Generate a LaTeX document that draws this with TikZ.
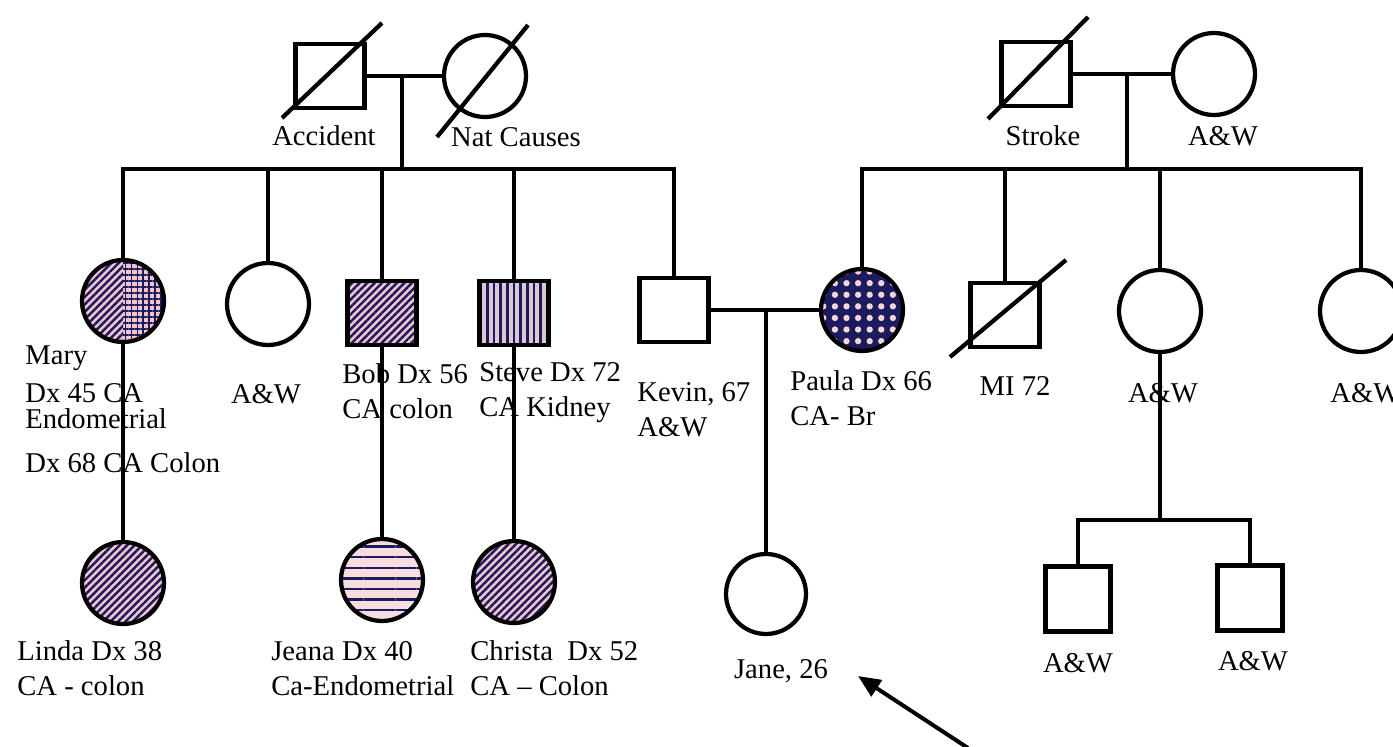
\documentclass[tikz,border=0pt]{standalone}
\usepackage{fontspec}
\setmainfont{Liberation Serif}
\usepackage{tikz}
\usetikzlibrary{arrows.meta,positioning,calc,patterns.meta}
\definecolor{ink}{HTML}{1B1B5E}
\definecolor{blush}{HTML}{F2C4CC}
\definecolor{dotpink}{HTML}{F7D3DA}
\newcommand{\pedfont}{\fontsize{16.3}{19.8}\selectfont}

\begin{document}
\begin{tikzpicture}[
    x=0.02cm, y=-0.02cm,
    rel/.style={line width=0.085cm},
    male/.style={rel,draw,rectangle,minimum width=1.38cm,minimum height=1.28cm,inner sep=0pt},
    kid/.style={male,minimum width=1.3cm,minimum height=1.3cm},
    female/.style={rel,draw,circle,minimum size=1.64cm,inner sep=0pt},
    diag/.style={preaction={fill=blush},pattern={Lines[angle=45,distance=3pt,line width=1.4pt]},pattern color=ink},
    vbars/.style={preaction={fill=blush!80!ink!60},pattern={Lines[angle=90,distance=3.8pt,line width=1.5pt]},pattern color=ink},
    hbars/.style={preaction={fill=blush!60},pattern={Lines[angle=0,distance=6pt,line width=1.4pt]},pattern color=ink},
    dots/.style={preaction={fill=ink},pattern={Dots[distance=6.6pt,radius=1.8pt]},pattern color=dotpink},
    split/.style={path picture={
        \fill[blush] (path picture bounding box.south west) rectangle (path picture bounding box.north east);
        \fill[pattern={Lines[angle=45,distance=3pt,line width=1.4pt]},pattern color=ink]
          (path picture bounding box.south west) rectangle (path picture bounding box.north);
        \fill[pattern={Hatch[angle=0,distance=3.4pt,line width=1pt]},pattern color=ink]
          (path picture bounding box.south) rectangle (path picture bounding box.north east);}},
    lbl/.style={font=\pedfont,align=left,anchor=base west,inner sep=0pt},
    clbl/.style={lbl,anchor=base},
    ptr/.style={line width=0.08cm,-{Triangle[length=0.45cm,width=0.38cm]}}
  ]
  \useasboundingbox (0,0) rectangle (1393,747);

  % paternal side
  \node[male] (acc) at (330,76) {};
  \node[female] (nat) at (485,76) {};
  \draw[rel] ($(acc.center)+(-48,42)$) -- ($(acc.center)+(52,-53)$);
  \draw[rel] ($(nat.center)+(-48,61)$) -- ($(nat.center)+(43,-51)$);
  \node[clbl] at (324,145) {Accident};
  \node[clbl] at (516,146) {Nat Causes};

  \node[female,split] (mary) at (123,301) {};
  \node[female] (aunt) at (268,304) {};
  \node[male,diag] (bob) at (382,313) {};
  \node[male,vbars] (steve) at (514,313) {};
  \node[male] (kevin) at (674,310) {};

  % maternal side
  \node[male] (stroke) at (1036,74) {};
  \node[female] (gma) at (1214,74) {};
  \draw[rel] ($(stroke.center)+(-48,45)$) -- ($(stroke.center)+(52,-57)$);
  \node[clbl] at (1043,145) {Stroke};
  \node[clbl] at (1223,145) {A\&W};

  \node[female,dots] (paula) at (862,310) {};
  \node[male] (mi) at (1005,315) {};
  \draw[rel] ($(mi.center)+(-55,42)$) -- ($(mi.center)+(61,-55)$);
  \node[female] (aw3) at (1160,311) {};
  \node[female] (aw4) at (1361,311) {};

  % third generation
  \node[female,diag] (linda) at (123,583) {};
  \node[female,hbars] (jeana) at (382,580) {};
  \node[female,diag] (christa) at (514,582) {};
  \node[female,minimum size=1.6cm] (jane) at (766,594) {};
  \node[kid] (gk1) at (1078,599) {};
  \node[kid] (gk2) at (1250,598) {};

  % lines of descent
  \draw[rel] (acc.east) -- (nat.west);
  \coordinate (d1) at (402,76);
  \coordinate (sib1) at (402,169);
  \draw[rel] (d1) -- (sib1);
  \draw[rel] (mary.north) |- (sib1);
  \draw[rel] (aunt.north) |- (sib1);
  \draw[rel] (bob.north) |- (sib1);
  \draw[rel] (steve.north) |- (sib1);
  \draw[rel] (kevin.north) |- (sib1);

  \draw[rel] (stroke.east) -- (gma.west);
  \coordinate (d2) at (1127,74);
  \coordinate (sib2) at (1127,169);
  \draw[rel] (d2) -- (sib2);
  \draw[rel] (paula.north) |- (sib2);
  \draw[rel] (mi.north) |- (sib2);
  \draw[rel] (aw3.north) |- (sib2);
  \draw[rel] (aw4.north) |- (sib2);

  \draw[rel] (kevin.east) -- (paula.west);
  \coordinate (d3) at (766,310);
  \draw[rel] (d3) -- (jane.north);

  \draw[rel] (mary.south) -- (linda.north);
  \draw[rel] (bob.south) -- (jeana.north);
  \draw[rel] (steve.south) -- (christa.north);

  \coordinate (sib3) at (1160,520);
  \draw[rel] (aw3.south) -- (sib3);
  \draw[rel] (gk1.north) |- (sib3);
  \draw[rel] (gk2.north) |- (sib3);

  % labels (base = last line)
  \node[lbl] at (25,472) {Mary\\[1.7pt]Dx 45 CA\\[-4.8pt]Endometrial\\[4.9pt]Dx 68 CA Colon};
  \node[clbl] at (266,403) {A\&W};
  \node[lbl] at (342,418) {Bob Dx 56\\CA colon};
  \node[lbl] at (479,416) {Steve Dx 72\\CA Kidney};
  \node[lbl] at (637,436) {Kevin, 67\\A\&W};
  \node[lbl] at (790,425) {Paula Dx 66\\CA- Br};
  \node[clbl] at (1015,395) {MI 72};
  \node[clbl] at (1163,402) {A\&W};
  \node[lbl] at (1330,402) {A\&W};
  \node[lbl] at (17,695) {Linda Dx 38\\CA - colon};
  \node[lbl] at (271,695) {Jeana Dx 40\\Ca-Endometrial};
  \node[lbl] at (470,695) {Christa\ \ Dx 52\\CA – Colon};
  \node[clbl] at (781,678) {Jane, 26};
  \node[clbl] at (1078,672) {A\&W};
  \node[clbl] at (1253,670) {A\&W};

  % proband
  \coordinate (ptrtail) at (968,748);
  \coordinate (ptrtip) at (858,676);
  \draw[ptr] (ptrtail) -- (ptrtip);
\end{tikzpicture}
\end{document}
